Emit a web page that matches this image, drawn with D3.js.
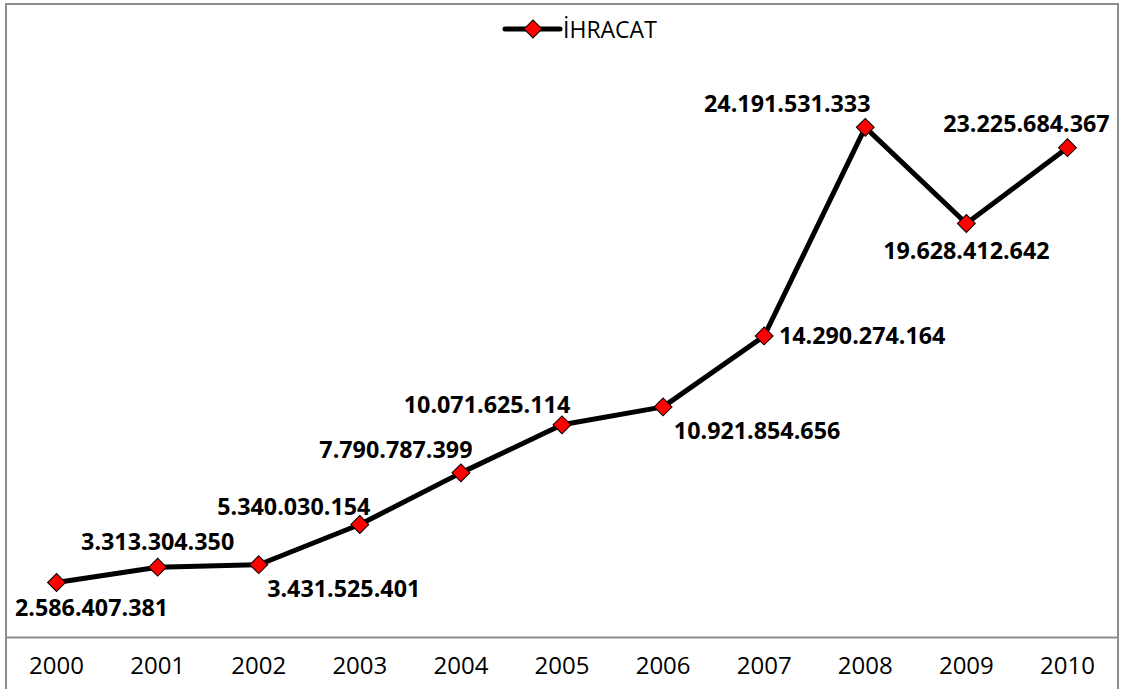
<!DOCTYPE html>
<html><head><meta charset="utf-8">
<script src="https://cdn.jsdelivr.net/npm/d3@7/dist/d3.min.js"></script>
<style>body{margin:0;background:#fff}svg{display:block}</style>
</head><body>
<svg id="c" width="1126" height="689"></svg>
<script>
const years = ["2000","2001","2002","2003","2004","2005","2006","2007","2008","2009","2010"];
const ihracat = [2586407381, 3313304350, 3431525401, 5340030154, 7790787399, 10071625114, 10921854656, 14290274164, 24191531333, 19628412642, 23225684367];
const seriesName = "İHRACAT";
// label placement relative to the point: [dx, dy] of text centre
const labelPlace = [[35,24],[0,-26],[85,23],[-66,-19],[-65,-24],[-75,-21],[94,23],[98,-1],[-78,-24],[0,27],[-41,-25]];

const svg = d3.select("#c");
const plotLeft = 6, plotRight = 1118, plotTop = 5, axisY = 637;

svg.append("rect").attr("x", plotLeft).attr("y", 4).attr("width", plotRight-plotLeft).attr("height", 700)
  .attr("fill", "#fff").attr("stroke", "#8c8c8c").attr("stroke-width", 2);

const x = d3.scaleBand().domain(years).range([plotLeft, plotRight]);
const y = d3.scaleLinear().domain([0, 30e9]).range([axisY, plotTop]);

const xAxis = d3.axisBottom(x).tickSize(0).tickPadding(20);
const gx = svg.append("g").attr("transform", `translate(0,${axisY})`).call(xAxis);
gx.select(".domain").attr("stroke", "#8c8c8c").attr("stroke-width", 2);
gx.selectAll("text").attr("font-family", "'Open Sans', sans-serif").attr("font-size", 24).attr("fill", "#000");

const cx = d => x(d) + x.bandwidth()/2;
const line = d3.line().x((d,i) => cx(years[i])).y(d => y(d));
svg.append("path").datum(ihracat).attr("d", line).attr("fill", "none")
  .attr("stroke", "#000").attr("stroke-width", 5).attr("stroke-linejoin", "round");

const diamond = d3.symbol().type(d3.symbolSquare).size(160);
svg.selectAll(".pt").data(ihracat).join("path")
  .attr("d", diamond)
  .attr("transform", (d,i) => `translate(${cx(years[i])},${y(d)}) rotate(45)`)
  .attr("fill", "#ff0000").attr("stroke", "#000").attr("stroke-width", 1);

const fmt = v => String(v).replace(/\B(?=(\d{3})+(?!\d))/g, ".");
svg.selectAll(".lbl").data(ihracat).join("text")
  .attr("x", (d,i) => cx(years[i]) + labelPlace[i][0])
  .attr("y", (d,i) => y(d) + labelPlace[i][1])
  .attr("text-anchor", "middle").attr("dominant-baseline", "central")
  .attr("font-family", "'Open Sans', sans-serif").attr("font-weight", "bold").attr("font-size", 23.3)
  .attr("fill", "#000").text(d => fmt(d));

// legend
const lg = svg.append("g");
lg.append("line").attr("x1", 505).attr("x2", 560).attr("y1", 29).attr("y2", 29)
  .attr("stroke", "#000").attr("stroke-width", 5).attr("stroke-linecap", "round");
lg.append("path").attr("d", diamond).attr("transform", "translate(533,29) rotate(45)")
  .attr("fill", "#ff0000").attr("stroke", "#000").attr("stroke-width", 1);
lg.append("text").attr("x", 563).attr("y", 29).attr("dominant-baseline", "central")
  .attr("font-family", "'Open Sans', sans-serif").attr("font-size", 23).attr("fill", "#000").text(seriesName);
</script>
</body></html>
